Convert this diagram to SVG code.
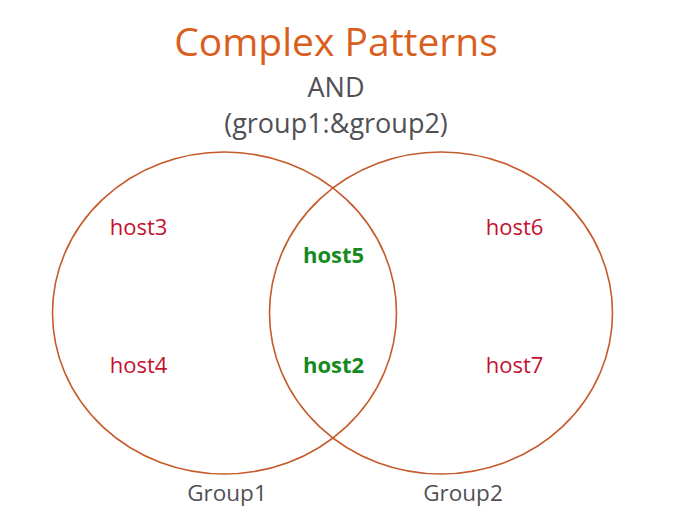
<svg xmlns="http://www.w3.org/2000/svg" width="700" height="519" viewBox="0 0 700 519">
  <style>
    text { font-family: "Open Sans", "Noto Sans", "Liberation Sans", sans-serif; text-anchor: middle; }
    .title { font-size: 39px; fill: #d95f1e; }
    .sub { font-size: 27px; fill: #505055; }
    .host { font-size: 22px; fill: #c4122f; }
    .common { font-size: 22px; fill: #168a1e; font-weight: bold; }
    .label { font-size: 22.5px; fill: #505055; }
    .set { fill: none; stroke: #c55a2a; stroke-width: 1.6; }
  </style>
  <rect width="700" height="519" fill="#ffffff"/>
  <g id="header">
    <text class="title" x="336" y="56">Complex Patterns</text>
    <text class="sub" x="336" y="97">AND</text>
    <text class="sub" x="336" y="133">(group1:&amp;group2)</text>
  </g>
  <g id="group1">
    <ellipse class="set" cx="224.5" cy="313" rx="172" ry="161"/>
    <text class="label" x="227" y="501">Group1</text>
  </g>
  <g id="group2">
    <ellipse class="set" cx="441" cy="313" rx="171.5" ry="161"/>
    <text class="label" x="463" y="501">Group2</text>
  </g>
  <g id="host3"><text class="host" x="138.5" y="235">host3</text></g>
  <g id="host4"><text class="host" x="138.5" y="373">host4</text></g>
  <g id="host5"><text class="common" x="333.5" y="263">host5</text></g>
  <g id="host2"><text class="common" x="333.5" y="373">host2</text></g>
  <g id="host6"><text class="host" x="514.5" y="235">host6</text></g>
  <g id="host7"><text class="host" x="514.5" y="373">host7</text></g>
</svg>
